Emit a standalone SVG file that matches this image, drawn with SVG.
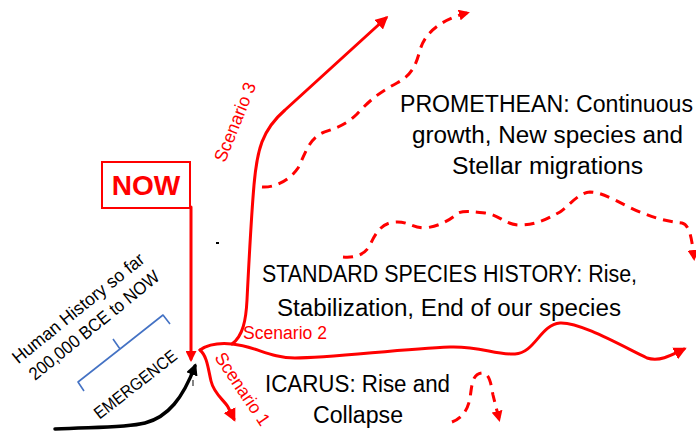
<svg xmlns="http://www.w3.org/2000/svg" width="696" height="432" viewBox="0 0 696 432">
<style>
  .t { font-family: "Liberation Sans", Arial, sans-serif; fill: #000; }
  .sc { font-family: "Liberation Sans", Arial, sans-serif; font-size: 18px; fill: #FF0000; }
  .big { font-size: 23px; }
  .solid { fill: none; stroke: #FF0000; stroke-width: 3; stroke-linecap: round; stroke-linejoin: round; }
  .dash { fill: none; stroke: #FF0000; stroke-width: 3; stroke-dasharray: 10 7; }
</style>
<defs>
  <marker id="ahRed" viewBox="0 0 13 13" markerWidth="13" markerHeight="13" refX="10" refY="6.5" orient="auto" markerUnits="userSpaceOnUse">
    <path d="M0,0 L13,6.5 L0,13 z" fill="#FF0000"/>
  </marker>
  <marker id="ahRedS" viewBox="0 0 11 11" markerWidth="11" markerHeight="11" refX="8" refY="5.5" orient="auto" markerUnits="userSpaceOnUse">
    <path d="M0,0 L11,5.5 L0,11 z" fill="#FF0000"/>
  </marker>
  <marker id="ahBlack" viewBox="0 0 12 12" markerWidth="12" markerHeight="12" refX="9" refY="6" orient="auto" markerUnits="userSpaceOnUse">
    <path d="M0,0 L12,6 L0,12 z" fill="#000"/>
  </marker>
</defs>

<g id="connectors">
  <path id="now-line" class="solid" d="M191,207 L191,359" marker-end="url(#ahRedS)"/>
  <path id="emergence-curve" d="M55,429 C95,427 125,428 145,423 C168,417 183,398 195,366" fill="none" stroke="#000" stroke-width="3.5" stroke-linecap="round" marker-end="url(#ahBlack)"/>
  <path id="scenario2" class="solid" d="M200,350 C210,343 222,343 232,344 C255,346 270,358 295,358 C330,358 400,349 450,347 C480,346 495,355 515,354 C535,353 540,325 560,323 C580,322 620,345 647,358 C660,362 672,355 684,349" marker-end="url(#ahRed)"/>
  <path id="scenario3" class="solid" d="M232,344 C243,336 246,320 247,300 C249,260 251,220 254,185 C257,150 262,130 285,110 L386,18" marker-end="url(#ahRed)"/>
  <path id="scenario1" class="solid" d="M200,350 C207,356 208,368 211,381 C214,394 224,400 228,407 L234,419" marker-end="url(#ahRed)"/>
  <path id="promethean-dash" class="dash" d="M262,187 C275,188 290,180 298,168 C305,155 308,140 322,133 C335,128 345,126 357,114 C368,102 378,93 397,83 C412,75 416,65 420,50 C425,33 440,20 467,13" marker-end="url(#ahRedS)"/>
  <path id="standard-dash" class="dash" d="M343,257 C355,258 365,255 370,245 C376,232 382,223 395,222 C408,221 412,228 425,228 C440,226 450,220 458,213 C465,210 475,212 485,213 C500,215 505,225 520,225 C535,225 545,220 560,212 C570,205 578,193 590,192 C605,192 625,207 645,214 C660,220 672,222 682,223 C690,225 692,240 694,258" marker-end="url(#ahRedS)"/>
  <path id="icarus-dash" class="dash" d="M452,422 C462,418 468,410 470,398 C472,385 472,374 482,373 C490,373 491,385 493,395 L499,419" marker-end="url(#ahRedS)"/>
</g>

<g id="now">
  <rect x="102" y="162" width="88" height="46" fill="none" stroke="#FF0000" stroke-width="2"/>
  <text x="146" y="195" text-anchor="middle" font-family="Liberation Sans, Arial, sans-serif" font-weight="bold" font-size="28" fill="#FF0000">NOW</text>
</g>

<g id="human-history">
  <g transform="translate(82,313) rotate(-39)">
    <text class="t" x="-82" y="0" font-size="18" textLength="164" lengthAdjust="spacingAndGlyphs">Human History so far</text>
  </g>
  <g transform="translate(98,330) rotate(-39)">
    <text class="t" x="-81" y="0" font-size="18" textLength="162" lengthAdjust="spacingAndGlyphs">200,000 BCE to NOW</text>
  </g>
</g>

<g id="emergence">
  <path d="M84,391 L78,382 L120,349 L113,339 M120,349 L163,315 L170,324" fill="none" stroke="#4472C4" stroke-width="1.6" stroke-linejoin="round"/>
  <g transform="translate(139,389) rotate(-38)">
    <text class="t" x="-50" y="0" font-size="17" textLength="100" lengthAdjust="spacingAndGlyphs">EMERGENCE</text>
  </g>
</g>

<g id="scenario-labels">
  <g transform="translate(240.7,124.3) rotate(-68)">
    <text class="sc" x="-42" y="0" textLength="84" lengthAdjust="spacingAndGlyphs">Scenario 3</text>
  </g>
  <text class="sc" x="243" y="339" textLength="84" lengthAdjust="spacingAndGlyphs">Scenario 2</text>
  <g transform="translate(237.4,392.4) rotate(56)">
    <text class="sc" x="-42" y="0" textLength="84" lengthAdjust="spacingAndGlyphs">Scenario 1</text>
  </g>
</g>

<g id="promethean">
  <text class="t big" x="400" y="112" textLength="293" lengthAdjust="spacingAndGlyphs">PROMETHEAN: Continuous</text>
  <text class="t big" x="412" y="143" textLength="271" lengthAdjust="spacingAndGlyphs">growth, New species and</text>
  <text class="t big" x="452" y="174" textLength="191" lengthAdjust="spacingAndGlyphs">Stellar migrations</text>
</g>

<g id="standard">
  <text class="t big" x="262" y="282" textLength="375" lengthAdjust="spacingAndGlyphs">STANDARD SPECIES HISTORY: Rise,</text>
  <text class="t big" x="277" y="316" textLength="344" lengthAdjust="spacingAndGlyphs">Stabilization, End of our species</text>
</g>

<g id="icarus">
  <text class="t big" x="265" y="392" textLength="185" lengthAdjust="spacingAndGlyphs">ICARUS: Rise and</text>
  <text class="t big" x="313" y="423" textLength="90" lengthAdjust="spacingAndGlyphs">Collapse</text>
</g>

<rect x="216" y="242" width="3" height="2" fill="#000"/>
<line x1="193" y1="380" x2="193" y2="386" stroke="#333" stroke-width="1.2"/>
</svg>
